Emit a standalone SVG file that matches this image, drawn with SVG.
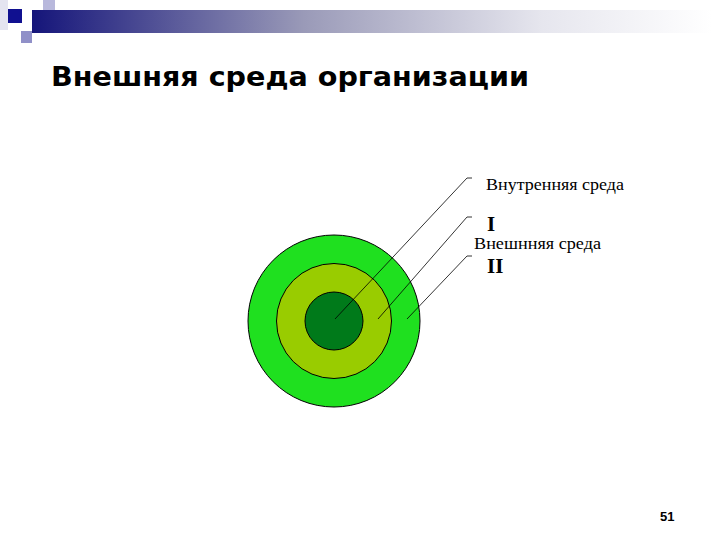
<svg xmlns="http://www.w3.org/2000/svg" width="720" height="540" viewBox="0 0 720 540">
  <defs>
    <linearGradient id="bar" x1="0" y1="0" x2="1" y2="0">
      <stop offset="0" stop-color="#15157a"/>
      <stop offset="0.4" stop-color="#9a9ab8"/>
      <stop offset="0.75" stop-color="#e6e6ee"/>
      <stop offset="1" stop-color="#ffffff"/>
    </linearGradient>
    <style>
      .ring { stroke: #000; stroke-width: 1; }
      .lead { stroke: #000; stroke-width: 0.8; fill: none; }
      .lbl { font-family: "Liberation Serif", "Times New Roman", serif; font-size: 17px; fill: #000; }
      .num { font-family: "Liberation Serif", "Times New Roman", serif; font-size: 21px; font-weight: bold; fill: #000; }
    </style>
  </defs>
  <rect width="720" height="540" fill="#ffffff"/>

  <g id="header">
    <rect x="0" y="0" width="8" height="30" fill="#e4e4f0"/>
    <rect x="43" y="0" width="12" height="10" fill="#b8b8dc"/>
    <rect x="32" y="10" width="11" height="12" fill="#c8c8e4"/>
    <rect x="32" y="10" width="680" height="23" fill="url(#bar)"/>
    <rect x="8" y="9" width="14" height="14" fill="#101090"/>
    <rect x="21" y="31" width="11" height="12" fill="#9090c8"/>
  </g>

  <g id="title">
    <text x="51" y="86" font-family="'DejaVu Sans', Verdana, sans-serif" font-size="26" font-weight="bold" textLength="478" lengthAdjust="spacingAndGlyphs" fill="#000">Внешняя среда организации</text>
  </g>

  <g id="rings">
    <circle id="outer" class="ring" cx="334" cy="321" r="86" fill="#1fe01f"/>
    <circle id="middle" class="ring" cx="334" cy="321" r="57.5" fill="#99cc00"/>
    <circle id="inner" class="ring" cx="334" cy="321" r="29" fill="#007a1a"/>
  </g>

  <g id="connectors">
    <polyline class="lead" points="335,319 467,178 472,178"/>
    <polyline class="lead" points="378,319 467,217 472,217"/>
    <polyline class="lead" points="407,319 467,256 472,256"/>
  </g>

  <g id="labels">
    <text class="lbl" x="486" y="190" textLength="138" lengthAdjust="spacingAndGlyphs">Внутренняя среда</text>
    <text class="num" x="487" y="231">I</text>
    <text class="lbl" x="474" y="249" textLength="127" lengthAdjust="spacingAndGlyphs">Внешнняя среда</text>
    <text class="num" x="487" y="273">II</text>
  </g>

  <g id="page">
    <text x="660" y="521" font-family="'Liberation Sans', Arial, sans-serif" font-size="13" font-weight="bold" fill="#000">51</text>
  </g>
</svg>
